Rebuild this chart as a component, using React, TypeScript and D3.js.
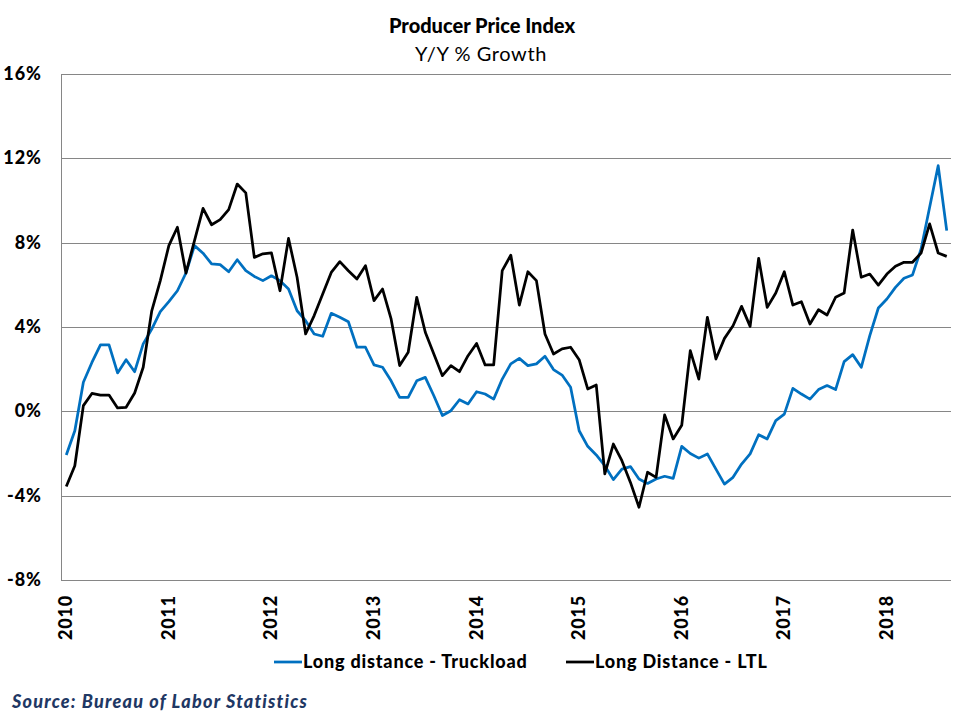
import React, { useEffect, useRef } from 'react';
import * as d3 from 'd3';

// Y/Y % growth, monthly Jan 2010 - Aug 2018
const truckload = [
  -2.07, -0.92, 1.38, 2.32, 3.15, 3.15, 1.82, 2.45, 1.88, 3.2, 3.9, 4.73,
  5.2, 5.72, 6.56, 7.86, 7.5, 6.99, 6.96, 6.62, 7.19, 6.67, 6.4, 6.2,
  6.43, 6.2, 5.8, 4.77, 4.3, 3.67, 3.56, 4.65, 4.46, 4.25, 3.04, 3.04,
  2.2, 2.09, 1.45, 0.66, 0.66, 1.45, 1.61, 0.74, -0.2, 0.03, 0.55, 0.35,
  0.93, 0.82, 0.58, 1.53, 2.25, 2.51, 2.17, 2.25, 2.61, 1.98, 1.72, 1.14,
  -0.92, -1.66, -2.07, -2.58, -3.24, -2.74, -2.62, -3.21, -3.42, -3.21, -3.08, -3.18,
  -1.66, -2.0, -2.22, -2.02, -2.74, -3.45, -3.13, -2.5, -2.02, -1.11, -1.31, -0.44,
  -0.13, 1.09, 0.82, 0.58, 1.03, 1.22, 1.03, 2.36, 2.69, 2.09, 3.59, 4.9,
  5.33, 5.88, 6.31, 6.47, 7.7, 9.68, 11.65, 8.57,
];

const ltl = [
  -3.57, -2.58, 0.27, 0.85, 0.77, 0.77, 0.16, 0.19, 0.87, 2.09, 4.77, 6.2,
  7.86, 8.73, 6.56, 8.1, 9.63, 8.85, 9.09, 9.57, 10.78, 10.36, 7.3, 7.47,
  7.52, 5.72, 8.2, 6.36, 3.67, 4.54, 5.57, 6.59, 7.1, 6.67, 6.28, 6.91,
  5.25, 5.8, 4.38, 2.17, 2.8, 5.41, 3.75, 2.72, 1.69, 2.17, 1.88, 2.64,
  3.22, 2.2, 2.2, 6.67, 7.41, 5.04, 6.62, 6.2, 3.67, 2.72, 2.96, 3.04,
  2.45, 1.06, 1.25, -2.97, -1.55, -2.34, -3.37, -4.55, -2.89, -3.13, -0.17, -1.31,
  -0.66, 2.88, 1.53, 4.46, 2.48, 3.46, 4.06, 4.98, 4.03, 7.26, 4.93, 5.61,
  6.62, 5.04, 5.2, 4.14, 4.82, 4.57, 5.41, 5.61, 8.6, 6.36, 6.51, 5.99,
  6.51, 6.88, 7.07, 7.07, 7.51, 8.89, 7.51, 7.35,
];

const years = ['2010', '2011', '2012', '2013', '2014', '2015', '2016', '2017', '2018'];
const yTicks = [-8, -4, 0, 4, 8, 12, 16];

const series = [
  { name: 'Long distance - Truckload', values: truckload, color: '#0070C0' },
  { name: 'Long Distance - LTL', values: ltl, color: '#000000' },
];

const FONT = 'Lato, "Open Sans", sans-serif';

export default function App() {
  const svgRef = useRef<SVGSVGElement>(null);

  useEffect(() => {
    if (!svgRef.current) return;
    const root = d3.select(svgRef.current);
    root.selectAll('*').remove();

    const left = 62;
    const right = 951;
    const top = 74;
    const bottom = 580;

    const months = d3.range(truckload.length);
    const x = d3.scaleBand<number>().domain(months).range([left, right]);
    const cx = (i: number) => x(i)! + x.bandwidth() / 2;
    const y = d3.scaleLinear().domain([-8, 16]).range([bottom, top]);

    // gridlines
    root
      .append('g')
      .selectAll('line')
      .data(yTicks)
      .enter()
      .append('line')
      .attr('x1', left)
      .attr('x2', right)
      .attr('y1', (d) => Math.round(y(d)) + 0.5)
      .attr('y2', (d) => Math.round(y(d)) + 0.5)
      .attr('stroke', '#868686')
      .attr('stroke-width', 1);

    root
      .append('line')
      .attr('x1', left - 0.5)
      .attr('x2', left - 0.5)
      .attr('y1', top)
      .attr('y2', bottom + 1)
      .attr('stroke', '#868686');

    // y labels
    root
      .append('g')
      .selectAll('text')
      .data(yTicks)
      .enter()
      .append('text')
      .attr('x', 42)
      .attr('y', (d) => y(d) + 6)
      .attr('text-anchor', 'end')
      .attr('font-family', FONT)
      .attr('font-weight', 900)
      .attr('font-size', 18)
      .attr('letter-spacing', 1)
      .text((d) => `${d}%`);

    // x labels (rotated, one per January)
    root
      .append('g')
      .selectAll('text')
      .data(years)
      .enter()
      .append('text')
      .attr('transform', (_, i) => `translate(${cx(i * 12) + 6},595) rotate(-90)`)
      .attr('text-anchor', 'end')
      .attr('font-family', FONT)
      .attr('font-weight', 900)
      .attr('font-size', 18)
      .attr('letter-spacing', 0.8)
      .text((d) => d);

    // lines
    const line = d3
      .line<number>()
      .x((_, i) => cx(i))
      .y((d) => y(d));

    series.forEach((s) => {
      root
        .append('path')
        .datum(s.values)
        .attr('d', line)
        .attr('fill', 'none')
        .attr('stroke', s.color)
        .attr('stroke-width', 2.75)
        .attr('stroke-linejoin', 'round');
    });

    // title
    root
      .append('text')
      .attr('x', 482)
      .attr('y', 33)
      .attr('text-anchor', 'middle')
      .attr('font-family', FONT)
      .attr('font-weight', 900)
      .attr('font-size', 20)
      .text('Producer Price Index');
    root
      .append('text')
      .attr('x', 481)
      .attr('y', 61)
      .attr('text-anchor', 'middle')
      .attr('font-family', FONT)
      .attr('font-weight', 'normal')
      .attr('font-size', 20)
      .attr('letter-spacing', 0.6)
      .text('Y/Y % Growth');

    // legend
    const legendX = [274, 566];
    series.forEach((s, i) => {
      const g = root.append('g').attr('transform', `translate(${legendX[i]},662)`);
      g.append('line')
        .attr('x1', 0)
        .attr('x2', 28)
        .attr('stroke', s.color)
        .attr('stroke-width', 2.75);
      g.append('text')
        .attr('x', 29)
        .attr('y', 6)
        .attr('font-family', FONT)
        .attr('font-weight', 900)
        .attr('font-size', 18)
        .attr('letter-spacing', 0.8)
        .text(s.name);
    });

    // source
    root
      .append('text')
      .attr('x', 12)
      .attr('y', 708)
      .attr('font-family', FONT)
      .attr('font-weight', 900)
      .attr('font-style', 'italic')
      .attr('font-size', 18)
      .attr('letter-spacing', 1.2)
      .attr('fill', '#1F3864')
      .text('Source: Bureau of Labor Statistics');
  }, []);

  return (
    <svg
      ref={svgRef}
      width={963}
      height={728}
      style={{ position: 'absolute', left: 0, top: 0, background: '#fff' }}
    />
  );
}
